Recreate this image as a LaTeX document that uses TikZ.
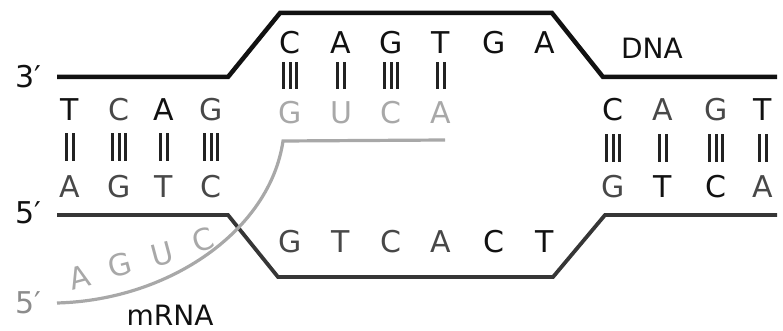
\documentclass[tikz,border=0pt]{standalone}
\usepackage{fontspec}
\setmainfont{DejaVu Sans}
\usepackage{xcolor}
\usetikzlibrary{positioning}
\definecolor{StrandInk}{HTML}{111111}
\definecolor{StrandDim}{HTML}{363636}
\definecolor{BaseDim}{HTML}{484848}
\definecolor{BondInk}{HTML}{222222}
\definecolor{RnaGrey}{HTML}{A8A8A8}
\definecolor{EndGrey}{HTML}{8C8C8C}

\begin{document}
\begin{tikzpicture}[
  x=1pt,y=-1pt,
  base/.style={font=\fontsize{30}{32}\selectfont,inner sep=0pt,text=StrandInk},
  basedim/.style={base,text=BaseDim},
  rnabase/.style={base,text=RnaGrey},
  endlabel/.style={font=\fontsize{30}{32}\selectfont,inner sep=0pt,text=StrandInk},
  strandlabel/.style={font=\fontsize{28}{30}\selectfont,inner sep=0pt,text=StrandInk},
  topstrand/.style={draw=StrandInk,line width=4.5pt},
  botstrand/.style={draw=StrandDim,line width=3.8pt},
  rnastrand/.style={draw=RnaGrey,line width=3.2pt},
  bondline/.style={draw=BondInk,line width=3pt},
  twobond/.pic={\draw[bondline] (-3.5,-13.5) -- (-3.5,13.5) (3.5,-13.5) -- (3.5,13.5);},
  threebond/.pic={\draw[bondline] (-6.5,-13.5) -- (-6.5,13.5) (0,-13.5) -- (0,13.5) (6.5,-13.5) -- (6.5,13.5);}
]
  \useasboundingbox (0,0) rectangle (783,331);

  % strands
  \draw[topstrand] (57,77) -- (228,77) -- (280,13) -- (552,13) -- (603,77) -- (777,77);
  \draw[botstrand] (57,215) -- (228,215) -- (278,277) -- (553,277) -- (605,215) -- (777,215);
  \draw[rnastrand] (445,140) -- (283,141) .. controls (270,230) and (170,300) .. (57,303);

  % strand ends
  \node[endlabel] (top3) at (28,77) {3′};
  \node[endlabel] (bot5) at (28,213) {5′};
  \node[endlabel,text=EndGrey] (rna5) at (28,303) {5′};
  \node[strandlabel] (dna) at (652,48) {DNA};
  \node[strandlabel] (mrna) at (170,315) {mRNA};

  % left double helix
  \node[base] (lt1) at (70,110) {T};
  \node[basedim] (lt2) at (119,110) {C};
  \node[base] (lt3) at (164,110) {A};
  \node[basedim] (lt4) at (211,110) {G};
  \pic at (70,147) {twobond};
  \pic at (119,147) {threebond};
  \pic at (164,147) {twobond};
  \pic at (211,147) {threebond};
  \node[basedim] (lb1) at (70,187) {A};
  \node[basedim] (lb2) at (119,187) {G};
  \node[basedim] (lb3) at (164,187) {T};
  \node[basedim] (lb4) at (211,187) {C};

  % transcription bubble
  \node[base] (ct1) at (290,43) {C};
  \node[base] (ct2) at (341,43) {A};
  \node[base] (ct3) at (391,43) {G};
  \node[base] (ct4) at (441,43) {T};
  \node[base] (ct5) at (494,43) {G};
  \node[base] (ct6) at (545,43) {A};
  \pic at (290,76) {threebond};
  \pic at (341,76) {twobond};
  \pic at (391,76) {threebond};
  \pic at (441,76) {twobond};
  \node[rnabase] (rn1) at (290,113) {G};
  \node[rnabase] (rn2) at (341,113) {U};
  \node[rnabase] (rn3) at (391,113) {C};
  \node[rnabase] (rn4) at (441,113) {A};
  \node[basedim] (cb1) at (290,242) {G};
  \node[basedim] (cb2) at (341,242) {T};
  \node[basedim] (cb3) at (391,242) {C};
  \node[basedim] (cb4) at (441,242) {A};
  \node[base] (cb5) at (494,242) {C};
  \node[base] (cb6) at (545,242) {T};

  % released mRNA
  \node[rnabase,rotate=15] (rf1) at (80,277) {A};
  \node[rnabase,rotate=15] (rf2) at (120,265) {G};
  \node[rnabase,rotate=15] (rf3) at (162,254) {U};
  \node[rnabase,rotate=18] (rf4) at (203,240) {C};

  % right double helix
  \node[base] (rt1) at (613,110) {C};
  \node[basedim] (rt2) at (663,110) {A};
  \node[basedim] (rt3) at (716,110) {G};
  \node[base] (rt4) at (763,110) {T};
  \pic at (613,148) {threebond};
  \pic at (663,148) {twobond};
  \pic at (716,148) {threebond};
  \pic at (763,148) {twobond};
  \node[basedim] (rb1) at (613,187) {G};
  \node[base] (rb2) at (663,187) {T};
  \node[base] (rb3) at (716,187) {C};
  \node[basedim] (rb4) at (763,187) {A};
\end{tikzpicture}
\end{document}
